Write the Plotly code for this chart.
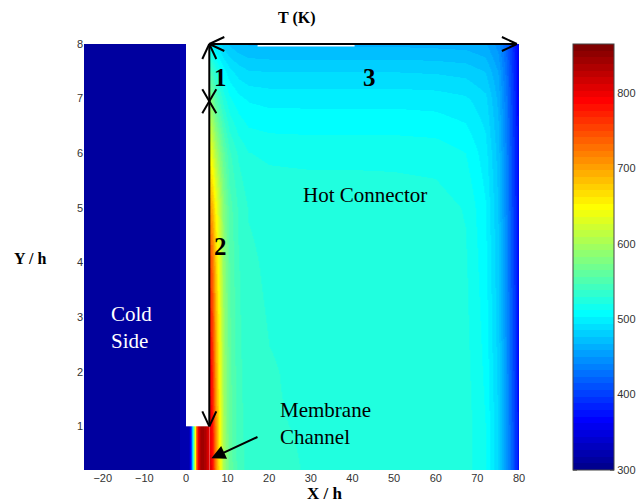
import plotly.graph_objects as go

# ---------------- data ----------------
# Cold side (uniform, cold)
cold_x_edges = [-24.5, -1.5, 0.0]
cold_y_edges = [0.2, 8.0]
cold_T = [[312, 318]]

# Membrane channel (0 < X/h < 5.6, Y/h < 1)
chan_x = [0.25, 0.75, 1.1, 1.4, 1.75, 2.1, 2.45, 2.8, 3.3, 3.9, 4.5, 5.0, 5.4]
chan_y = [0.4, 0.8]
chan_row = [318, 330, 400, 470, 545, 650, 730, 795, 835, 845, 835, 820, 810]
chan_T = [chan_row, chan_row]

# Hot connector (5.6 < X/h < 80)
hot_x = [5.85, 6.35, 7.1, 8, 9, 10.5, 12.5, 15, 20, 30, 40, 50, 60, 67, 72, 75, 77, 78.5, 79.25, 79.75]
hot_y = [0.2, 1, 2, 3, 4, 5, 6, 7, 7.5, 8]
hot_T = [
    [805, 785, 720, 655, 600, 563, 543, 535, 531, 529, 529, 529, 528, 525, 512, 485, 450, 415, 390, 370],
    [800, 780, 715, 650, 598, 561, 542, 534, 530, 529, 529, 529, 528, 525, 512, 485, 450, 415, 390, 370],
    [790, 768, 705, 645, 595, 560, 541, 533, 530, 528, 528, 528, 527, 524, 510, 482, 447, 412, 388, 368],
    [772, 752, 695, 640, 592, 558, 540, 532, 529, 528, 528, 528, 527, 523, 508, 480, 445, 410, 386, 367],
    [748, 728, 680, 632, 588, 556, 539, 531, 528, 528, 528, 527, 526, 522, 506, 478, 443, 408, 385, 366],
    [700, 688, 650, 615, 580, 552, 537, 529, 527, 527, 527, 526, 525, 520, 504, 476, 441, 406, 383, 365],
    [640, 630, 605, 580, 560, 540, 528, 521, 519, 518, 518, 518, 517, 512, 498, 472, 438, 404, 381, 363],
    [578, 570, 552, 538, 526, 514, 506, 502, 500, 500, 500, 500, 499, 496, 488, 465, 433, 400, 378, 362],
    [545, 538, 526, 516, 507, 497, 490, 486, 485, 485, 485, 485, 484, 482, 476, 458, 428, 397, 376, 360],
    [505, 500, 494, 488, 481, 475, 470, 467, 466, 466, 466, 466, 465, 464, 460, 446, 420, 392, 372, 356],
]

T_MIN, T_MAX = 300, 865
cbar_ticks = [300, 400, 500, 600, 700, 800]
x_ticks = [-20, -10, 0, 10, 20, 30, 40, 50, 60, 70, 80]
y_ticks = [1, 2, 3, 4, 5, 6, 7, 8]
X_RANGE = [-24.5, 80]
Y_RANGE = [0.2, 8]
WALL_X = 5.6
ARROW_END_X = 79.5
SPLIT_Y = 6.95

# ---------------- MATLAB jet(64) colorscale ----------------
def clip01(v):
    return max(0.0, min(1.0, v))

jet = []
for k in range(1, 65):
    r = clip01(min((k - 24) / 16, (72 - k) / 16))
    g = clip01(min((k - 8) / 16, (56 - k) / 16))
    b = clip01(min((k + 8) / 16, (40 - k) / 16))
    c = f"rgb({round(r*255)},{round(g*255)},{round(b*255)})"
    jet.append([(k - 1) / 64, c])
    jet.append([k / 64, c])

serif = "Liberation Serif, Times New Roman, serif"
sans = "Liberation Sans, Arial, sans-serif"

# page geometry (pixels in the 636x503 window); body margin removed by post_script
W, H = 636, 503
PL, PR, PT, PB = 84.3, 519.3, 44, 470        # plot area in window pixels
L, T = PL, PT
PW, PH = PR - PL, PB - PT
R, B = W - L - PW, H - T - PH
CB_LEFT, CB_THICK = 573.3, 41

fig = go.Figure()
fig.add_trace(go.Heatmap(x=cold_x_edges, y=cold_y_edges, z=cold_T, zmin=T_MIN, zmax=T_MAX,
                         colorscale=jet, showscale=False, hoverinfo="skip"))
fig.add_trace(go.Heatmap(x=chan_x, y=chan_y, z=chan_T, zmin=T_MIN, zmax=T_MAX,
                         colorscale=jet, showscale=False, zsmooth="best", hoverinfo="skip"))
fig.add_trace(go.Heatmap(
    x=hot_x, y=hot_y, z=hot_T, zmin=T_MIN, zmax=T_MAX, colorscale=jet, zsmooth="best",
    colorbar=dict(x=(CB_LEFT - PL) / PW, xanchor="left", xpad=0, y=0.5, yanchor="middle", len=1,
                  lenmode="fraction", ypad=0, thickness=CB_THICK, thicknessmode="pixels",
                  outlinewidth=1, outlinecolor="#444", tickvals=cbar_ticks,
                  ticks="",
                  tickfont=dict(family=sans, size=11, color="#333")),
    hoverinfo="skip"))


def px(xv):
    return (xv - X_RANGE[0]) / (X_RANGE[1] - X_RANGE[0])

def py(yv):
    return (yv - Y_RANGE[0]) / (Y_RANGE[1] - Y_RANGE[0])

def wpx(xpix):   # window pixel -> paper x
    return (xpix - PL) / PW

def wpy(ypix):   # window pixel -> paper y
    return (PB - ypix) / PH

dxp = 1 / PW
dyp = 1 / PH

shapes = []
def seg(x0, y0, x1, y1, color="black", w=2):
    shapes.append(dict(type="line", xref="paper", yref="paper", x0=x0, y0=y0, x1=x1, y1=y1,
                       line=dict(color=color, width=w)))

wx = px(WALL_X)
ytop = py(8)
ysplit = py(SPLIT_Y)
ybot = py(1)
xend = px(ARROW_END_X)
# white streak under top line
seg(px(17.2), ytop - 1.5 * dyp, px(40.5), ytop - 1.5 * dyp, color="white", w=2)
# main lines
seg(wx, ybot, wx, ytop)
seg(wx, ytop, xend, ytop)
# arrowheads
ah_w, ah_l = 7, 15
seg(wx, ytop, wx - ah_w * dxp, ytop - ah_l * dyp)
seg(wx, ytop, wx + ah_w * dxp, ytop - ah_l * dyp)
seg(wx, ytop, wx + ah_l * dxp, ytop + ah_w * dyp)
seg(wx, ytop, wx + ah_l * dxp, ytop - ah_w * dyp)
seg(xend, ytop, xend - ah_l * dxp, ytop + ah_w * dyp)
seg(xend, ytop, xend - ah_l * dxp, ytop - ah_w * dyp)
seg(wx - ah_w * dxp, ysplit + 12 * dyp, wx + ah_w * dxp, ysplit - 12 * dyp)
seg(wx + ah_w * dxp, ysplit + 12 * dyp, wx - ah_w * dxp, ysplit - 12 * dyp)
seg(wx, ybot, wx - ah_w * dxp, ybot + ah_l * dyp)
seg(wx, ybot, wx + ah_w * dxp, ybot + ah_l * dyp)

# colorbar tick marks on both inner edges
cb_l = wpx(CB_LEFT)
cb_r = wpx(CB_LEFT + CB_THICK)
for v in cbar_ticks:
    yv = (v - T_MIN) / (T_MAX - T_MIN)
    seg(cb_l, yv, cb_l + 4 * dxp, yv, color="#222", w=1)
    seg(cb_r - 4 * dxp, yv, cb_r, yv, color="#222", w=1)

def ann(text, x, y, size, bold=False, color="black", xanchor="center", align="center",
        xref="x", yref="y"):
    t = f"<b>{text}</b>" if bold else text
    return dict(text=t, x=x, y=y, xref=xref, yref=yref, showarrow=False,
                xanchor=xanchor, yanchor="middle", align=align,
                font=dict(family=serif, size=size, color=color))

annotations = [
    ann("T (K)", wpx(296.7), wpy(18.3), 16, bold=True, xref="paper", yref="paper"),
    ann("Y / h", wpx(30), wpy(258), 16, bold=True, xref="paper", yref="paper"),
    ann("X / h", wpx(325), wpy(493), 17, bold=True, xref="paper", yref="paper"),
    ann("1", 8.4, 7.38, 25, bold=True),
    ann("2", 8.4, 4.30, 25, bold=True),
    ann("3", 44.1, 7.38, 25, bold=True),
    ann("Hot Connector", 42.9, 5.24, 21),
    ann("Cold<br>Side", -18.4, 2.81, 21, color="white", xanchor="left", align="left"),
    ann("Membrane<br>Channel", 22.0, 1.05, 21, xanchor="left", align="left"),
    dict(text="", x=6.1, y=0.414, xref="x", yref="y", ax=47.6, ay=-22, axref="pixel",
         ayref="pixel", showarrow=True, arrowhead=2, arrowsize=1.4, arrowwidth=2,
         arrowcolor="black", standoff=0),
]

fig.update_layout(
    width=W, height=H,
    margin=dict(l=L, r=R, t=T, b=B, pad=0, autoexpand=False),
    paper_bgcolor="white", plot_bgcolor="white",
    shapes=shapes, annotations=annotations, showlegend=False,
    xaxis=dict(range=X_RANGE, tickvals=x_ticks, showgrid=False, zeroline=False, showline=False,
               ticks="", tickfont=dict(family=sans, size=11, color="#333")),
    yaxis=dict(range=Y_RANGE, tickvals=y_ticks, showgrid=False, zeroline=False, showline=False,
               ticks="", tickfont=dict(family=sans, size=11, color="#333")),
)

fig.write_html("out.html", config={"displayModeBar": False},
               post_script="document.body.style.margin='0';document.body.style.overflow='hidden';")
